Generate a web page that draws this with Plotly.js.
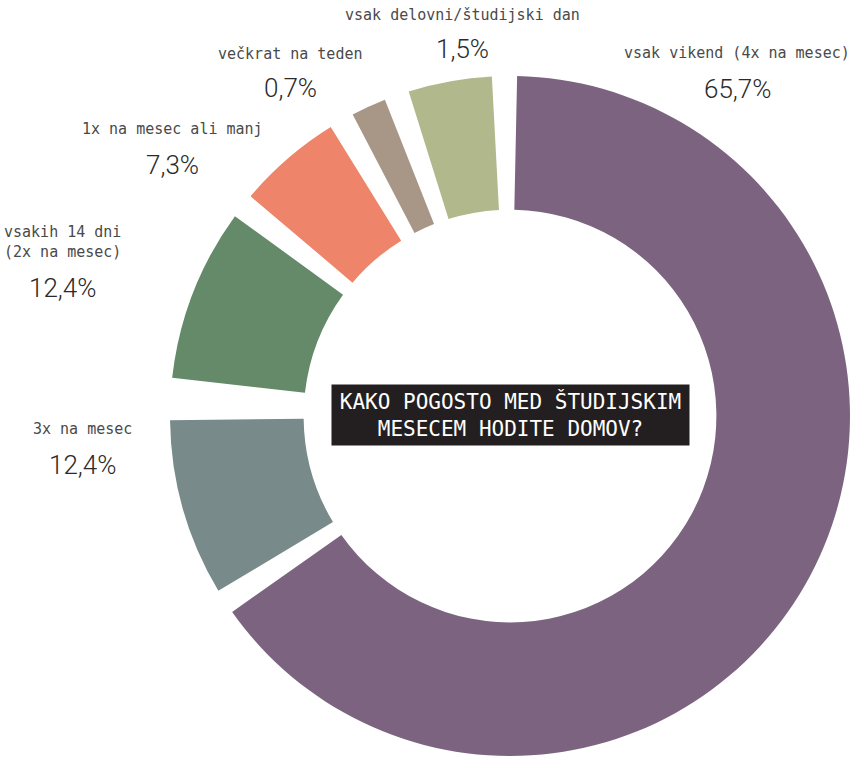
<!DOCTYPE html>
<html>
<head>
<meta charset="utf-8">
<script src="https://cdn.plot.ly/plotly-3.0.1.min.js"></script>
<style>html,body{margin:0;padding:0;background:#fff;}#chart{width:850px;height:758px;}</style>
</head>
<body>
<div id="chart"></div>
<script>
// ---- data ----
const categories = ['vsak vikend (4x na mesec)', '3x na mesec', 'vsakih 14 dni<br>(2x na mesec)', '1x na mesec ali manj', 'večkrat na teden', 'vsak delovni/študijski dan'];
const percentValues = [65.7, 12.4, 12.4, 7.3, 0.7, 1.5];      // printed percentages
const sliceShare = [70.4, 9.1, 8.9, 5.4, 1.8, 4.3];           // drawn slice sizes (as seen)
const sliceColors = ['#7c6480', '#798a8a', '#648a6a', '#ee8469', '#a89787', '#b1b88c'];
const chartTitle = 'KAKO POGOSTO MED ŠTUDIJSKIM<br>MESECEM HODITE DOMOV?';

// ---- styling ----
const gapDeg = [4.26, 7.2, 4.26, 4.26, 4.26, 4.26];   // white wedge after each slice
const labelPos = [[737, 53, 89], [82, 429, 465], [63, 242, 288], [172, 129, 165], [290, 54, 88], [462, 15, 49]];

const W = 850, H = 758;
const totalGap = gapDeg.reduce((a, b) => a + b, 0);
const shareSum = sliceShare.reduce((a, b) => a + b, 0);
const vals = [], cols = [], labs = [];
sliceShare.forEach((s, i) => {
  vals.push(s / shareSum * (360 - totalGap)); cols.push(sliceColors[i]); labs.push(categories[i]);
  vals.push(gapDeg[i]); cols.push('rgba(0,0,0,0)'); labs.push('gap' + i);
});

const trace = {
  type: 'pie', values: vals, labels: labs, sort: false, direction: 'clockwise', rotation: 1.2,
  hole: 0.607, textinfo: 'none', hoverinfo: 'skip',
  marker: { colors: cols, line: { width: 0 } },
  domain: { x: [170 / W, 850 / W], y: [(H - 416 - 340) / H, (H - 416 + 340) / H] },
  showlegend: false
};

const fmt = v => v.toFixed(1).replace('.', ',') + '%';
const annotations = [];
categories.forEach((c, i) => {
  const p = labelPos[i];
  annotations.push({ xref: 'paper', yref: 'paper', x: p[0] / W, y: 1 - p[1] / H, xanchor: 'center', yanchor: 'middle',
    text: c, showarrow: false, font: { family: 'DejaVu Sans Mono', size: 15, color: '#4a4a4a' } });
  annotations.push({ xref: 'paper', yref: 'paper', x: p[0] / W, y: 1 - p[2] / H, xanchor: 'center', yanchor: 'middle',
    text: fmt(percentValues[i]), showarrow: false, font: { family: 'Roboto', weight: 300, size: 26, color: '#2a2a2a' } });
});
annotations.push({ xref: 'paper', yref: 'paper', x: 510 / W, y: 1 - 415 / H, xanchor: 'center', yanchor: 'middle',
  text: chartTitle, showarrow: false, bgcolor: '#231f20', borderpad: 0, width: 357, height: 60,
  font: { family: 'DejaVu Sans Mono', size: 21, color: '#ffffff' } });

const layout = {
  width: W, height: H, margin: { l: 0, r: 0, t: 0, b: 0 },
  paper_bgcolor: '#ffffff', plot_bgcolor: '#ffffff', showlegend: false, annotations: annotations
};
Plotly.newPlot('chart', [trace], layout, { displayModeBar: false, staticPlot: true });
</script>
</body>
</html>
